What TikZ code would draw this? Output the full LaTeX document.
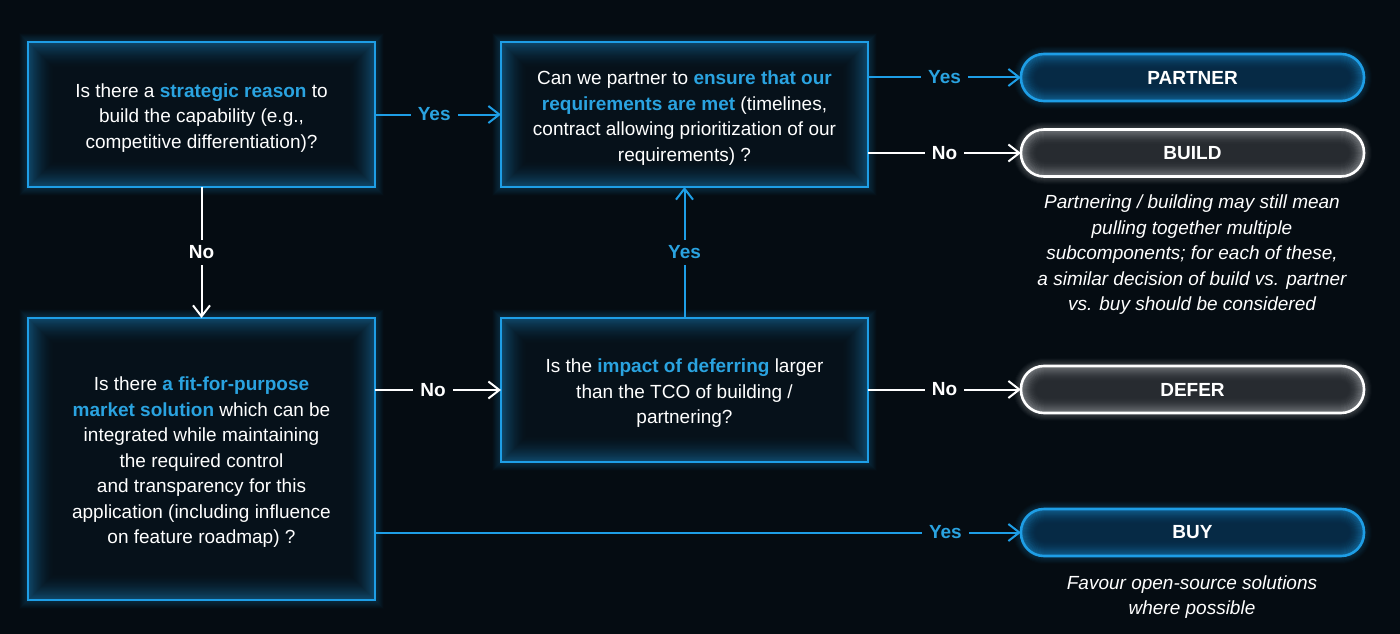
\documentclass[tikz,border=0pt]{standalone}
\usepackage{fontspec}
\setmainfont{Liberation Sans}
\usetikzlibrary{arrows.meta}
\definecolor{bg}{HTML}{050C12}
\definecolor{bfill}{HTML}{06111A}
\definecolor{blu}{HTML}{1E9EE6}
\definecolor{tblue}{HTML}{2AA3E0}
\definecolor{pblue}{HTML}{062A45}
\definecolor{pgray}{HTML}{272B30}
\definecolor{glowgray}{HTML}{C8CCD0}
\newcommand\hl[1]{\textcolor{tblue}{\textbf{#1}}}
\newcommand\topstrut{\rule{0pt}{20.5pt}}
\newcommand\boxglow[1]{%
  \fill[bfill] (#1.north west) rectangle (#1.south east);
  \foreach \i in {0,...,27} {%
    \pgfmathsetmacro\op{0.21*(1-\i/28)^2}
    \draw[blu, line width=2.4pt, draw opacity=\op] ([shift={(\i+1,-\i-1)}]#1.north west) rectangle ([shift={(-\i-1,\i+1)}]#1.south east);
  }
  \foreach \i in {1,...,8} {%
    \pgfmathsetmacro\op{0.12*(1-\i/9)}
    \draw[blu, line width=2pt, draw opacity=\op] ([shift={(-\i,\i)}]#1.north west) rectangle ([shift={(\i,-\i)}]#1.south east);
  }
  \draw[blu, line width=2.6pt] (#1.north west) rectangle (#1.south east);
}
\newcommand\pillglow[4]{% name, fill, glow colour, border
  \fill[#2, rounded corners=23pt] (#1.north west) rectangle (#1.south east);
  \foreach \i in {0,...,15} {%
    \pgfmathsetmacro\op{0.22*(1-\i/16)^2}
    \pgfmathsetmacro\rr{max(23-\i-1,2)}
    \draw[#3, line width=2.4pt, draw opacity=\op, rounded corners=\rr pt] ([shift={(\i+1,-\i-1)}]#1.north west) rectangle ([shift={(-\i-1,\i+1)}]#1.south east);
  }
  \foreach \i in {1,...,7} {%
    \pgfmathsetmacro\op{0.12*(1-\i/8)}
    \pgfmathsetmacro\ro{23+\i}
    \draw[#4, line width=2pt, draw opacity=\op, rounded corners=\ro pt] ([shift={(-\i,\i)}]#1.north west) rectangle ([shift={(\i,-\i)}]#1.south east);
  }
  \draw[#4, line width=2.6pt, rounded corners=23pt] (#1.north west) rectangle (#1.south east);
}
\pgfdeclarelayer{background}
\pgfsetlayers{background,main}
\begin{document}
\begin{tikzpicture}[x=1pt,y=1pt,
  qbox/.style={rectangle, inner sep=0pt, outer sep=0pt, align=center, text=white,
    font=\fontsize{19}{25.5}\selectfont},
  pill/.style={rectangle, inner sep=0pt, outer sep=0pt, minimum width=343pt, minimum height=47pt,
    text=white, font=\fontsize{19}{22}\selectfont\bfseries},
  note/.style={align=center, text=white, font=\fontsize{19}{25.5}\selectfont\itshape},
  conn/.style={line width=2pt, -{Straight Barb[length=11pt,width=17pt,line width=2pt]}},
  yesc/.style={conn, blu},
  noc/.style={conn, white},
  lab/.style={fill=bg, inner xsep=7pt, inner ysep=2pt, font=\fontsize{19}{22}\selectfont\bfseries},
  ylab/.style={lab, text=tblue},
  nlab/.style={lab, text=white}
]
\useasboundingbox (0,0) rectangle (1400,-634);

\node[qbox, minimum width=347pt, minimum height=145pt] (A) at (201.5,-114.5)
  {\topstrut Is there a \hl{strategic reason} to\\ build the capability (e.g.,\\ competitive differentiation)?};
\node[qbox, minimum width=367pt, minimum height=145pt] (B) at (684.5,-114.5)
  {\topstrut Can we partner to \hl{ensure that our}\\ \hl{requirements are met} (timelines,\\ contract allowing prioritization of our\\ requirements) ?};
\node[qbox, minimum width=347pt, minimum height=282pt] (C) at (201.5,-459)
  {\topstrut Is there \hl{a fit-for-purpose}\\ \hl{market solution} which can be\\ integrated while maintaining\\ the required control\\ and transparency for this\\ application (including influence\\ on feature roadmap) ?};
\node[qbox, minimum width=367pt, minimum height=144pt] (D) at (684.5,-390)
  {\topstrut Is the \hl{impact of deferring} larger\\ than the TCO of building /\\ partnering?};

\node[pill] (P) at (1192.5,-77.5) {PARTNER};
\node[pill] (BL) at (1192.5,-153) {BUILD};
\node[pill] (DF) at (1192.5,-389.5) {DEFER};
\node[pill] (BY) at (1192.5,-532.5) {BUY};

\node[note] (n1) at (1192,-255) {Partnering / building may still mean\\ pulling together multiple\\ subcomponents; for each of these,\\ a similar decision of build vs. partner\\ vs. buy should be considered};
\node[note] (n2) at (1192,-597) {Favour open-source solutions\\ where possible};

\begin{pgfonlayer}{background}
  \fill[bg] (0,0) rectangle (1400,-634);
  \boxglow{A}
  \boxglow{B}
  \boxglow{C}
  \boxglow{D}
  \pillglow{P}{pblue}{blu}{blu}
  \pillglow{BY}{pblue}{blu}{blu}
  \pillglow{BL}{pgray}{glowgray}{white}
  \pillglow{DF}{pgray}{glowgray}{white}
\end{pgfonlayer}

\draw[yesc] (A.east) -- node[ylab, pos=0.47] {Yes} (B.west);
\draw[noc] (A.south) -- node[nlab, inner xsep=2pt, inner ysep=6pt] {No} (C.north);
\draw[noc] (C.east |- D.west) -- node[nlab, pos=0.46] {No} (D.west);
\draw[yesc] (D.north) -- node[ylab, inner xsep=2pt, inner ysep=6pt] {Yes} (B.south);
\draw[yesc] (B.east |- P.west) -- node[ylab, pos=0.5] {Yes} (P.west);
\draw[noc] (B.east |- BL.west) -- node[nlab, pos=0.5] {No} (BL.west);
\draw[noc] (D.east |- DF.west) -- node[nlab, pos=0.5] {No} (DF.west);
\draw[yesc] (C.east |- BY.west) -- node[ylab, pos=0.883] {Yes} (BY.west);
\end{tikzpicture}
\end{document}
